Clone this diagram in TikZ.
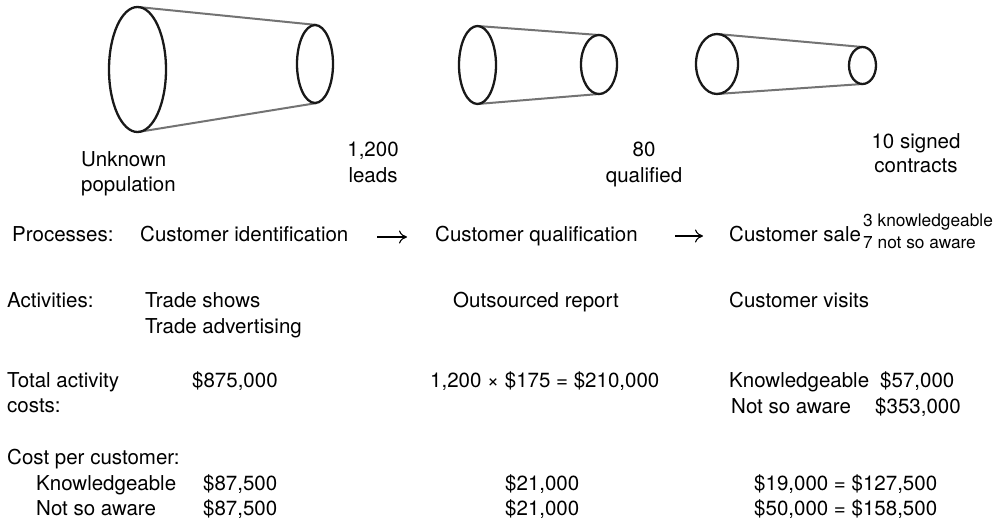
\documentclass[tikz,border=0pt]{standalone}
\usepackage{fontspec}
\setmainfont{TeX Gyre Heros}
\usetikzlibrary{arrows.meta}
\begin{document}
\begin{tikzpicture}[x=1pt,y=-1pt,
  txt/.style={anchor=base west, inner sep=0pt, font=\fontsize{20.5}{24}\selectfont},
  ctxt/.style={anchor=base, inner sep=0pt, font=\fontsize{20.5}{24}\selectfont},
  smalltxt/.style={anchor=base west, inner sep=0pt, font=\fontsize{17.3}{20}\selectfont},
  rim/.style={line width=2.3pt, black!90},
  side/.style={line width=2pt, black!55},
  procarrow/.style={line width=1.1pt, -{To[length=8pt,width=13pt]}}
]
\useasboundingbox (0,0) rectangle (998,524);

% funnel 1
\draw[side] (138,7) -- (317,25);
\draw[side] (138,132) -- (317,103);
\draw[rim] (137.5,69.5) ellipse [x radius=28.5, y radius=62.5];
\draw[rim] (315,64) ellipse [x radius=18, y radius=39];
% funnel 2
\draw[side] (477.5,26) -- (599,35);
\draw[side] (477.5,104) -- (599,94);
\draw[rim] (477.5,65) ellipse [x radius=18.5, y radius=39];
\draw[rim] (599,64.5) ellipse [x radius=18, y radius=29.5];
% funnel 3
\draw[side] (717,34) -- (862.5,47);
\draw[side] (717,94) -- (862.5,84);
\draw[rim] (717,64) ellipse [x radius=21, y radius=30];
\draw[rim] (862.5,65.5) ellipse [x radius=13.5, y radius=18.5];

% stage labels
\node[txt] (unk1) at (81,166) {Unknown};
\node[txt] (unk2) at (81,191) {population};
\node[ctxt] (lead1) at (373,157) {1,200};
\node[ctxt] (lead2) at (373,182) {leads};
\node[ctxt] (qual1) at (644,157) {80};
\node[ctxt] (qual2) at (644,182) {qualified};
\node[ctxt] (sig1) at (916,148) {10 signed};
\node[ctxt] (sig2) at (916,172) {contracts};
\node[smalltxt] (kn) at (863,226) {3 knowledgeable};
\node[smalltxt] (nsa) at (863,248) {7 not so aware};

% processes
\node[txt] (proclbl) at (12,241) {Processes:};
\node[txt] (pid) at (140,241) {Customer identification};
\node[txt] (pqual) at (435,241) {Customer qualification};
\node[txt] (psale) at (729,241) {Customer sale};
\draw[procarrow] ([shift={(237,-4)}]pid.base west) -- ([shift={(-28,-4)}]pqual.base west);
\draw[procarrow] ([shift={(240,-5)}]pqual.base west) -- ([shift={(-26,-5)}]psale.base west);

% activities
\node[txt] (actlbl) at (7,307) {Activities:};
\node[txt] (act1a) at (145,307) {Trade shows};
\node[txt] (act1b) at (145,333) {Trade advertising};
\node[txt] (act2) at (453,307) {Outsourced report};
\node[txt] (act3) at (729,307) {Customer visits};

% total activity costs
\node[txt] (totlbl1) at (7,387) {Total activity};
\node[txt] (totlbl2) at (7,412) {costs:};
\node[txt] (tot1) at (192,387) {\$875,000};
\node[txt] (tot2) at (430,387) {1,200 × \$175 = \$210,000};
\node[txt] (tot3a) at (729,387) {Knowledgeable};
\node[txt] (tot3av) at (880,387) {\$57,000};
\node[txt] (tot3b) at (731,413) {Not so aware};
\node[txt] (tot3bv) at (875,413) {\$353,000};

% cost per customer
\node[txt] (cpclbl) at (7,464) {Cost per customer:};
\node[txt] (cpck) at (36,490) {Knowledgeable};
\node[txt] (cpcn) at (36,515) {Not so aware};
\node[txt] (c1k) at (203,490) {\$87,500};
\node[txt] (c1n) at (203,515) {\$87,500};
\node[txt] (c2k) at (505,490) {\$21,000};
\node[txt] (c2n) at (505,515) {\$21,000};
\node[txt] (c3k) at (754,490) {\$19,000 = \$127,500};
\node[txt] (c3n) at (754,515) {\$50,000 = \$158,500};
\end{tikzpicture}
\end{document}
